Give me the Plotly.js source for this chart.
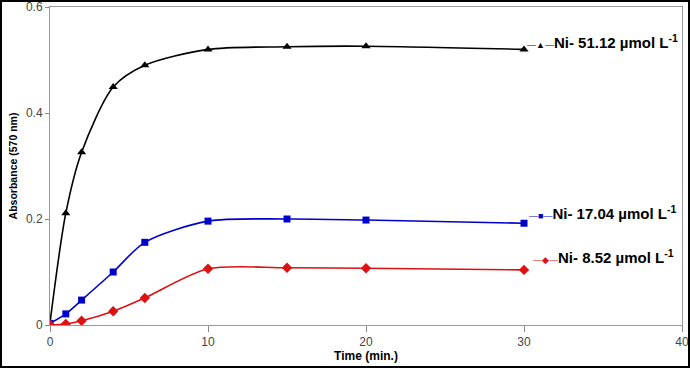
<!DOCTYPE html>
<html><head><meta charset="utf-8">
<script src="https://cdn.plot.ly/plotly-3.0.1.min.js"></script>
<style>
html,body{margin:0;padding:0;background:#fff;}
#wrap{position:relative;width:690px;height:368px;}
#chart{width:690px;height:368px;}
#frame{position:absolute;left:0;top:0;width:690px;height:368px;box-sizing:border-box;border:2px solid #000;pointer-events:none;}
</style></head>
<body>
<div id="wrap"><div id="chart"></div><div id="frame"></div></div>
<script>
const time = [0, 1, 2, 4, 6, 10, 15, 20, 30];
const ni5112 = [0.004, 0.211, 0.326, 0.449, 0.490, 0.520, 0.525, 0.526, 0.520];
const ni1704 = [0.003, 0.021, 0.047, 0.100, 0.156, 0.196, 0.200, 0.198, 0.192];
const ni852  = [0.000, 0.002, 0.008, 0.026, 0.051, 0.106, 0.108, 0.107, 0.104];
const seriesNames = ['Ni- 51.12 µmol L<sup>-1</sup>', 'Ni- 17.04 µmol L<sup>-1</sup>', 'Ni- 8.52 µmol L<sup>-1</sup>'];
const xTicks = [0, 10, 20, 30, 40];
const yTicks = [0, 0.2, 0.4, 0.6];
const yTickText = ['0', '0.2', '0.4', '0.6'];

const colors = ['#000000', '#0000cc', '#dd1111'];
const symbols = ['triangle-up', 'square', 'diamond'];
const keyChars = ['▲', '■', '◆'];
const allY = [ni5112, ni1704, ni852];

const traces = allY.map((ys, i) => ({
  x: time, y: ys, type: 'scatter', mode: 'lines+markers',
  name: seriesNames[i],
  line: {color: colors[i], width: 1.6, shape: 'spline', smoothing: 0.8},
  marker: {color: colors[i], symbol: symbols[i], size: i === 1 ? 7 : 8}
}));

// label positions (annotation anchors only)
const labelPos = [[30.05, 0.534], [30.2, 0.213], [30.45, 0.130]];
const annotations = labelPos.map((p, i) => ({
  x: p[0], y: p[1], xref: 'x', yref: 'y', xanchor: 'left', yanchor: 'middle',
  showarrow: false, align: 'left',
  text: '<span style="color:' + colors[i] + ';font-size:9px">—' + keyChars[i] + '—</span><b>' + seriesNames[i] + '</b>',
  font: {family: 'Liberation Sans, Arial, sans-serif', size: 15, color: '#000'}
}));

const layout = {
  width: 690, height: 368,
  margin: {l: 50, r: 8, t: 7, b: 43},
  paper_bgcolor: '#fff', plot_bgcolor: '#fff',
  showlegend: false,
  font: {family: 'Liberation Sans, Arial, sans-serif', color: '#333'},
  xaxis: {
    range: [0, 40], tickvals: xTicks, ticks: 'outside', ticklen: 6, tickcolor: '#888',
    showgrid: false, zeroline: false, showline: true, linecolor: '#999', linewidth: 1, mirror: true,
    tickfont: {size: 12, color: '#444'},
    title: {text: '<b>Time (min.)</b>', font: {size: 12, color: '#000'}, standoff: 3}
  },
  yaxis: {
    range: [0, 0.6], tickvals: yTicks, ticktext: yTickText, ticks: 'outside', ticklen: 4, tickcolor: '#888',
    showgrid: false, zeroline: false, showline: true, linecolor: '#999', linewidth: 1, mirror: true,
    tickfont: {size: 12, color: '#444'},
    title: {text: '<b>Absorbance (570 nm)</b>', font: {size: 10.5, color: '#000'}, standoff: 6}
  },
  annotations: annotations
};

Plotly.newPlot('chart', traces, layout, {displayModeBar: false, staticPlot: true});
</script>
</body></html>
